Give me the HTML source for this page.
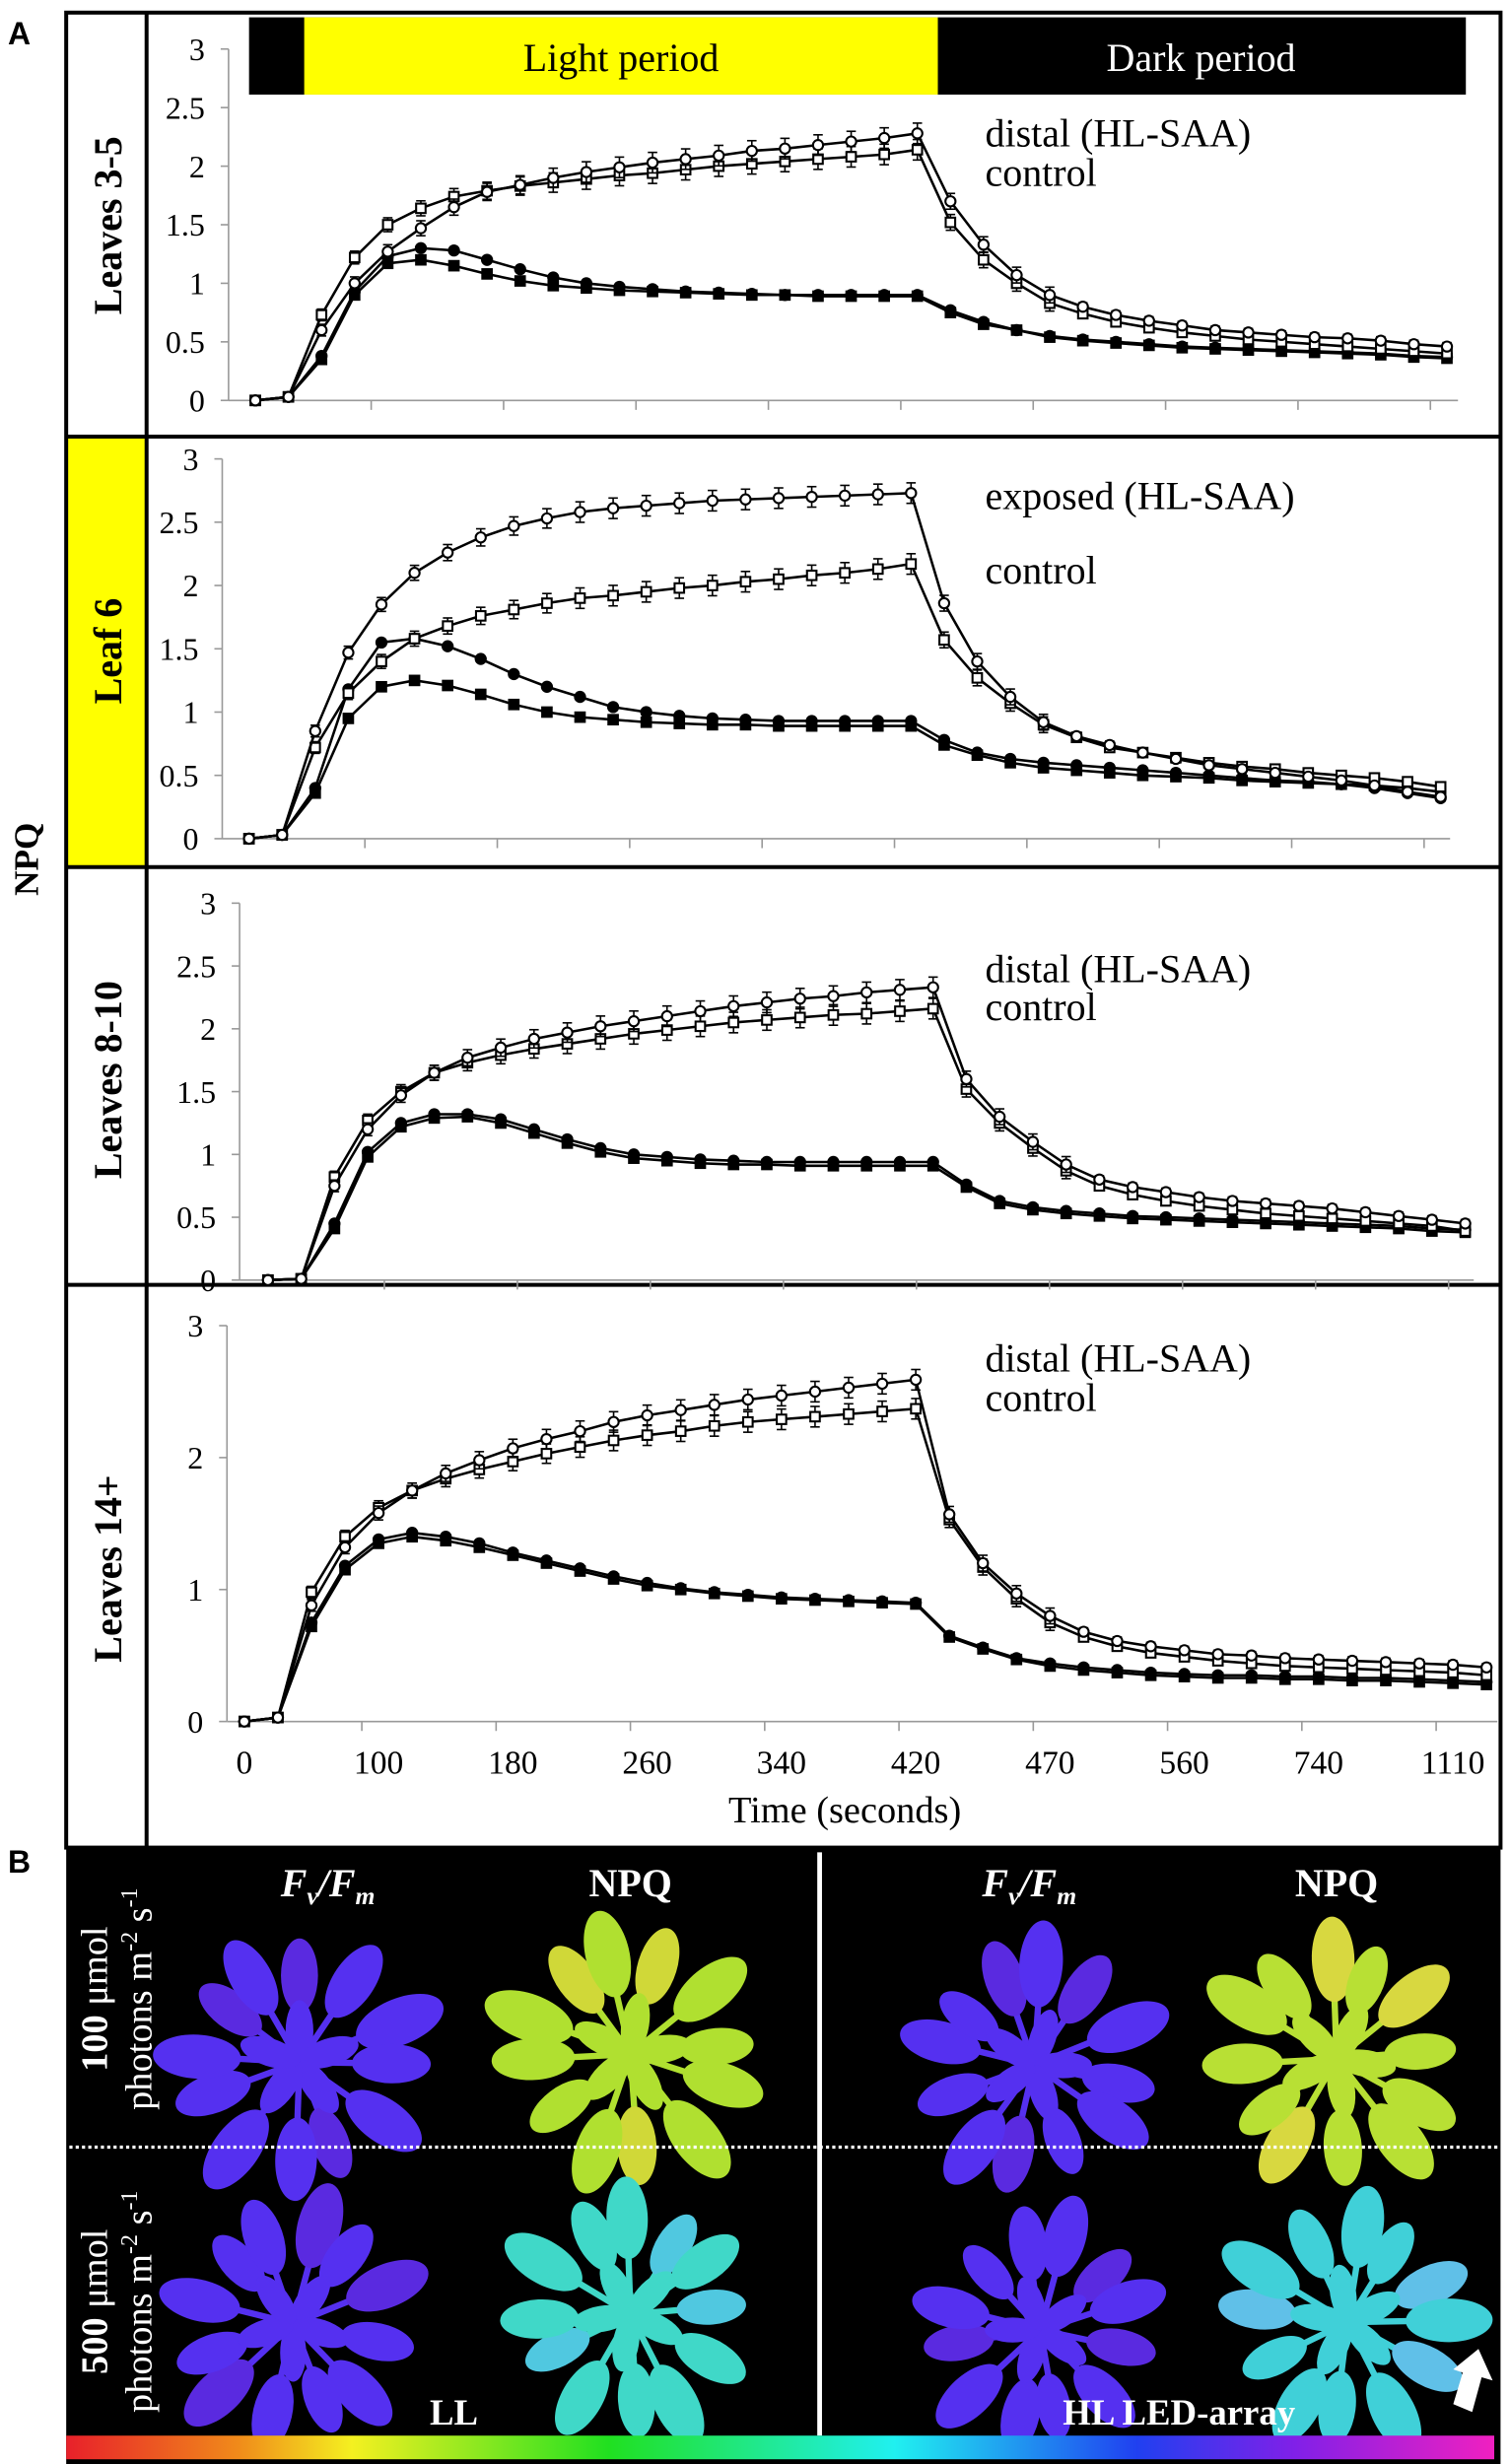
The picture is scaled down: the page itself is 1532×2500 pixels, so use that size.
<!DOCTYPE html>
<html><head><meta charset="utf-8"><style>
html,body{margin:0;padding:0;background:#fff;width:1532px;height:2500px;overflow:hidden}
svg{display:block}
text{font-family:"Liberation Serif",serif}
</style></head><body>
<svg id="s" width="1532" height="2500" viewBox="0 0 958 1563" preserveAspectRatio="none" xmlns="http://www.w3.org/2000/svg">
<defs>
<linearGradient id="cb" x1="0" x2="1" y1="0" y2="0">
<stop offset="0" stop-color="#e8202a"/><stop offset="0.12" stop-color="#f08a1a"/><stop offset="0.2" stop-color="#f4f020"/>
<stop offset="0.38" stop-color="#20e020"/><stop offset="0.58" stop-color="#20f0f0"/><stop offset="0.75" stop-color="#2040f0"/>
<stop offset="0.86" stop-color="#8020e8"/><stop offset="1" stop-color="#f020c0"/></linearGradient>
</defs>
<rect x="0" y="0" width="958" height="1563" fill="#fff"/>
<rect x="43" y="278" width="50" height="272" fill="#ffff00"/>
<g id="frames" fill="none" stroke="#000" stroke-width="2.5">
<rect x="42" y="8" width="910" height="1164"/>
<line x1="93" y1="8" x2="93" y2="1172"/>
<line x1="42" y1="277" x2="952" y2="277"/>
<line x1="42" y1="550" x2="952" y2="550"/>
<line x1="42" y1="815" x2="952" y2="815"/>
</g>
<rect x="158" y="11" width="772" height="49" fill="#000"/>
<rect x="193" y="11" width="402" height="49" fill="#ffff00"/>
<text x="394" y="45" font-size="25" text-anchor="middle">Light period</text>
<text x="762" y="45" font-size="25" text-anchor="middle" fill="#fff">Dark period</text>
<text x="5" y="28" font-size="20" font-weight="bold" style="font-family:'Liberation Sans',sans-serif">A</text>
<text x="5" y="1188" font-size="20" font-weight="bold" style="font-family:'Liberation Sans',sans-serif">B</text>
<text transform="translate(24,545) rotate(-90)" font-size="22" font-weight="bold" text-anchor="middle">NPQ</text>
<text transform="translate(77,143) rotate(-90)" font-size="25" font-weight="bold" text-anchor="middle">Leaves 3-5</text>
<text transform="translate(77,413) rotate(-90)" font-size="25" font-weight="bold" text-anchor="middle">Leaf 6</text>
<text transform="translate(77,685) rotate(-90)" font-size="25" font-weight="bold" text-anchor="middle">Leaves 8-10</text>
<text transform="translate(77,995) rotate(-90)" font-size="25" font-weight="bold" text-anchor="middle">Leaves 14+</text>
<g id="charts"></g>
<rect x="42" y="1173" width="910" height="390" fill="#000"/>
<g id="plants"></g>
<line x1="520" y1="1175" x2="520" y2="1545" stroke="#fff" stroke-width="3"/>
<line x1="44" y1="1362" x2="950" y2="1362" stroke="#fff" stroke-width="2" stroke-dasharray="2,2"/>
<rect x="42" y="1545" width="906" height="15" fill="url(#cb)"/>
<g fill="#fff" font-weight="bold">
<text x="208" y="1203" font-size="25" text-anchor="middle" font-style="italic">F<tspan font-size="16" dy="5">v</tspan><tspan dy="-5">/F</tspan><tspan font-size="16" dy="5">m</tspan></text>
<text x="400" y="1203" font-size="25" text-anchor="middle">NPQ</text>
<text x="653" y="1203" font-size="25" text-anchor="middle" font-style="italic">F<tspan font-size="16" dy="5">v</tspan><tspan dy="-5">/F</tspan><tspan font-size="16" dy="5">m</tspan></text>
<text x="848" y="1203" font-size="25" text-anchor="middle">NPQ</text>
<text x="288" y="1538" font-size="23" text-anchor="middle">LL</text>
<text x="748" y="1538" font-size="23" text-anchor="middle">HL LED-array</text>
<text transform="translate(68,1268) rotate(-90)" font-size="24" text-anchor="middle">100 <tspan font-weight="normal">μmol</tspan></text>
<text transform="translate(96,1268) rotate(-90)" font-size="24" font-weight="normal" text-anchor="middle">photons m<tspan font-size="15" dy="-9">-2</tspan><tspan dy="9"> s</tspan><tspan font-size="15" dy="-9">-1</tspan></text>
<text transform="translate(68,1460) rotate(-90)" font-size="24" text-anchor="middle">500 <tspan font-weight="normal">μmol</tspan></text>
<text transform="translate(96,1460) rotate(-90)" font-size="24" font-weight="normal" text-anchor="middle">photons m<tspan font-size="15" dy="-9">-2</tspan><tspan dy="9"> s</tspan><tspan font-size="15" dy="-9">-1</tspan></text>
</g>
<polygon points="922,1525 934,1530 940,1508 947,1510 938,1490 922,1503 928,1505" fill="#fff"/>
</svg>
<script>
var NS="http://www.w3.org/2000/svg";
function el(t,a,p){var e=document.createElementNS(NS,t);for(var k in a)e.setAttribute(k,a[k]);(p||document.getElementById('charts')).appendChild(e);return e;}
function txt(x,y,s,a,p){var e=el('text',Object.assign({x:x,y:y},a||{}),p);e.textContent=s;return e;}
var panels=[
{ax:145,ax2:925,y0:254,u:74.3,x0:162,st:21,ticks:[0,0.5,1,1.5,2,2.5,3],lab:["distal (HL-SAA)",93,"control",118],
 s:[[0,0.03,0.6,1.0,1.27,1.47,1.65,1.78,1.84,1.9,1.95,1.99,2.03,2.06,2.09,2.13,2.15,2.18,2.21,2.24,2.28,1.7,1.33,1.07,0.9,0.8,0.73,0.68,0.64,0.6,0.58,0.56,0.54,0.53,0.51,0.48,0.46],
 [0,0.03,0.73,1.22,1.5,1.64,1.74,1.79,1.83,1.86,1.89,1.92,1.94,1.97,2.0,2.02,2.04,2.06,2.08,2.1,2.14,1.52,1.2,1.0,0.83,0.74,0.67,0.62,0.58,0.55,0.52,0.5,0.48,0.46,0.44,0.42,0.4],
 [0,0.03,0.38,0.93,1.23,1.3,1.28,1.2,1.12,1.05,1.0,0.97,0.95,0.93,0.92,0.91,0.9,0.9,0.9,0.9,0.9,0.77,0.67,0.6,0.55,0.52,0.5,0.48,0.46,0.45,0.44,0.43,0.42,0.41,0.4,0.38,0.37],
 [0,0.03,0.35,0.9,1.17,1.2,1.15,1.08,1.02,0.98,0.96,0.94,0.93,0.92,0.91,0.9,0.9,0.89,0.89,0.89,0.89,0.75,0.65,0.6,0.54,0.51,0.49,0.47,0.45,0.44,0.43,0.42,0.41,0.4,0.39,0.37,0.36]]},
{ax:141,ax2:920,y0:532,u:80.3,x0:158,st:21,ticks:[0,0.5,1,1.5,2,2.5,3],lab:["exposed (HL-SAA)",323,"control",370],
 s:[[0,0.03,0.85,1.47,1.85,2.1,2.26,2.38,2.47,2.53,2.58,2.61,2.63,2.65,2.67,2.68,2.69,2.7,2.71,2.72,2.73,1.86,1.4,1.12,0.92,0.81,0.74,0.68,0.63,0.58,0.55,0.52,0.49,0.46,0.42,0.37,0.33],
 [0,0.03,0.72,1.15,1.4,1.58,1.68,1.76,1.81,1.86,1.9,1.92,1.95,1.98,2.0,2.03,2.05,2.08,2.1,2.13,2.17,1.57,1.27,1.07,0.9,0.8,0.72,0.68,0.64,0.6,0.57,0.55,0.52,0.5,0.48,0.45,0.41],
 [0,0.03,0.4,1.18,1.55,1.58,1.52,1.42,1.3,1.2,1.12,1.04,1.0,0.97,0.95,0.94,0.93,0.93,0.93,0.93,0.93,0.78,0.68,0.63,0.6,0.58,0.56,0.54,0.52,0.5,0.48,0.46,0.45,0.43,0.4,0.36,0.32],
 [0,0.03,0.36,0.95,1.2,1.25,1.21,1.14,1.06,1.0,0.96,0.94,0.92,0.91,0.9,0.9,0.89,0.89,0.89,0.89,0.89,0.74,0.66,0.6,0.56,0.54,0.52,0.5,0.49,0.48,0.46,0.45,0.44,0.43,0.42,0.4,0.37]]},
{ax:152,ax2:935,y0:812,u:79.7,x0:170,st:21.1,ticks:[0,0.5,1,1.5,2,2.5,3],lab:["distal (HL-SAA)",623,"control",647],
 s:[[0,0.01,0.75,1.2,1.47,1.65,1.77,1.85,1.92,1.97,2.02,2.06,2.1,2.14,2.18,2.21,2.24,2.26,2.29,2.31,2.33,1.6,1.3,1.1,0.92,0.8,0.74,0.7,0.66,0.63,0.61,0.59,0.57,0.54,0.51,0.48,0.45],
 [0,0.01,0.82,1.27,1.5,1.65,1.73,1.79,1.84,1.88,1.92,1.96,1.99,2.02,2.05,2.07,2.09,2.11,2.12,2.14,2.16,1.52,1.25,1.05,0.87,0.75,0.68,0.63,0.59,0.56,0.53,0.51,0.49,0.47,0.45,0.43,0.39],
 [0,0.01,0.45,1.02,1.25,1.32,1.32,1.28,1.2,1.12,1.05,1.0,0.98,0.96,0.95,0.94,0.94,0.94,0.94,0.94,0.94,0.76,0.63,0.58,0.55,0.53,0.51,0.5,0.49,0.48,0.47,0.46,0.45,0.44,0.43,0.41,0.4],
 [0,0.01,0.41,0.98,1.22,1.29,1.3,1.25,1.17,1.09,1.02,0.97,0.95,0.93,0.92,0.92,0.91,0.91,0.91,0.91,0.91,0.74,0.61,0.56,0.53,0.51,0.49,0.48,0.47,0.46,0.45,0.44,0.43,0.42,0.41,0.39,0.38]]},
{ax:144,ax2:950,y0:1092,u:83.7,x0:155,st:21.3,ticks:[0,1,2,3],lab:["distal (HL-SAA)",870,"control",895],xl:true,
 s:[[0,0.03,0.88,1.32,1.58,1.75,1.88,1.98,2.07,2.14,2.2,2.27,2.32,2.36,2.4,2.44,2.47,2.5,2.53,2.56,2.59,1.57,1.2,0.97,0.8,0.68,0.61,0.57,0.54,0.51,0.5,0.48,0.47,0.46,0.45,0.44,0.43,0.41],
 [0,0.03,0.98,1.4,1.62,1.75,1.84,1.91,1.97,2.03,2.08,2.13,2.17,2.2,2.24,2.27,2.29,2.31,2.33,2.35,2.37,1.53,1.17,0.93,0.75,0.64,0.57,0.52,0.49,0.46,0.44,0.42,0.41,0.4,0.39,0.38,0.37,0.35],
 [0,0.03,0.75,1.18,1.38,1.43,1.4,1.35,1.28,1.22,1.16,1.1,1.05,1.01,0.98,0.96,0.94,0.93,0.92,0.91,0.9,0.65,0.56,0.48,0.44,0.41,0.39,0.37,0.36,0.35,0.35,0.34,0.34,0.33,0.33,0.32,0.31,0.3],
 [0,0.03,0.72,1.15,1.35,1.4,1.37,1.32,1.26,1.2,1.14,1.08,1.03,1.0,0.97,0.95,0.93,0.92,0.91,0.9,0.89,0.64,0.55,0.47,0.42,0.39,0.37,0.35,0.34,0.33,0.33,0.32,0.32,0.31,0.31,0.3,0.29,0.28]]}
];
panels.forEach(function(p){
  var Y=function(v){return p.y0-v*p.u;};
  var top=Y(3);
  el('line',{x1:p.ax,y1:top,x2:p.ax,y2:p.y0,stroke:'#999','stroke-width':1});
  el('line',{x1:p.ax,y1:p.y0,x2:p.ax2,y2:p.y0,stroke:'#999','stroke-width':1});
  p.ticks.forEach(function(t){
    el('line',{x1:p.ax-5,y1:Y(t),x2:p.ax,y2:Y(t),stroke:'#999','stroke-width':1});
    txt(p.ax-15,Y(t)+7,String(t),{'font-size':20,'text-anchor':'end'});
  });
  var labs=["0","100","180","260","340","420","470","560","740","1110"];
  for(var k=4;k<=40;k+=4){
    var bx=p.x0-p.st/2+k*p.st; if(bx>p.ax2)break;
    el('line',{x1:bx,y1:p.y0,x2:bx,y2:p.y0+6,stroke:'#999','stroke-width':1});
  }
  if(p.xl){
    labs.forEach(function(l,i){txt(p.x0+i*4*p.st,p.y0+33,l,{'font-size':21,'text-anchor':'middle'});});
    txt(536,p.y0+64,"Time (seconds)",{'font-size':24,'text-anchor':'middle'});
  }
  txt(625,p.lab[1],p.lab[0],{'font-size':25});
  txt(625,p.lab[3],p.lab[2],{'font-size':25});
  [3,2,1,0].forEach(function(si){
    var d=p.s[si],pts=d.map(function(v,i){return (p.x0+i*p.st).toFixed(1)+','+Y(v).toFixed(1);}).join(' ');
    el('polyline',{points:pts,fill:'none',stroke:'#000','stroke-width':1.6});
    d.forEach(function(v,i){
      var x=p.x0+i*p.st,y=Y(v),open=si<2,fill=open?'#fff':'#000';
      if(open&&i>1){var e=(i<21?3+Math.min(i,10)*0.35:(i<25?5:2.5));
        el('line',{x1:x,y1:y-e,x2:x,y2:y+e,stroke:'#000','stroke-width':1});
        el('line',{x1:x-3,y1:y-e,x2:x+3,y2:y-e,stroke:'#000','stroke-width':1});
        el('line',{x1:x-3,y1:y+e,x2:x+3,y2:y+e,stroke:'#000','stroke-width':1});}
      if(si%2==0) el('circle',{cx:x,cy:y,r:3.2,fill:fill,stroke:'#000','stroke-width':1.3});
      else el('rect',{x:x-3,y:y-3,width:6,height:6,fill:fill,stroke:'#000','stroke-width':1.3});
    });
  });
});
var pg=document.getElementById('plants');
function plant(cx,cy,R,col,col2,seed){
  var n=12;
  for(var i=0;i<n;i++){
    var a=i*360/n+seed*17+((i*37)%11), r=R*(0.8+0.2*((i*7+seed)%5)/4);
    var tr='translate('+cx+','+cy+') rotate('+a+')';
    el('line',{x1:0,y1:0,x2:0,y2:-r*0.5,stroke:col,'stroke-width':4,transform:tr},pg);
    el('ellipse',{cx:0,cy:-r*0.7,rx:r*0.15,ry:r*0.3,fill:i%5==0?col2:col,transform:tr},pg);
  }
  for(var j=0;j<5;j++){
    el('ellipse',{cx:0,cy:-R*0.2,rx:R*0.09,ry:R*0.2,fill:col,transform:'translate('+cx+','+cy+') rotate('+(j*72+seed*9)+')'},pg);
  }
}
plant(190,1308,98,'#5530f0','#5a2ae0',0);
plant(400,1303,98,'#b0e030','#d0d838',1);
plant(656,1310,92,'#5530f0','#5a2ae0',2);
plant(848,1306,95,'#b8e034','#d8d840',3);
plant(186,1474,92,'#5530f0','#5a2ae0',4);
plant(400,1468,92,'#40d8c8','#50c8e0',5);
plant(660,1478,88,'#5530f0','#5a2ae0',6);
plant(855,1473,92,'#40d0d8','#60c0e8',7);
</script>
</body></html>
